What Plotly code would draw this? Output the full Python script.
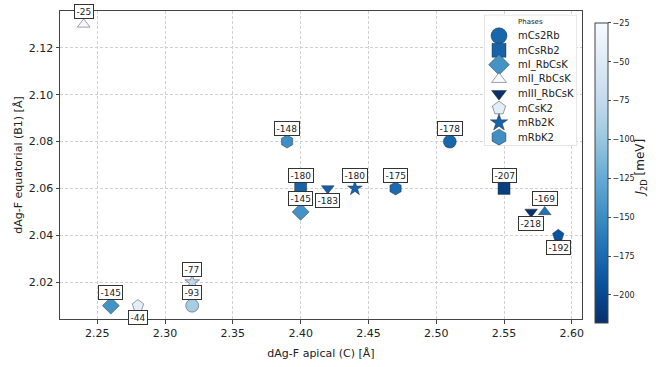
import plotly.graph_objects as go

# Phase of each structure, its Ag-F distances (Å) and exchange coupling J2D (meV)
phase = [
    "mCs2Rb", "mCs2Rb",
    "mCsRb2", "mCsRb2",
    "mI_RbCsK", "mI_RbCsK",
    "mII_RbCsK", "mII_RbCsK",
    "mIII_RbCsK", "mIII_RbCsK",
    "mCsK2", "mCsK2",
    "mRb2K", "mRb2K",
    "mRbK2", "mRbK2",
]
apical = [2.51, 2.32, 2.40, 2.55, 2.40, 2.26, 2.24, 2.58,
          2.57, 2.42, 2.28, 2.59, 2.44, 2.32, 2.39, 2.47]
equatorial = [2.08, 2.01, 2.06, 2.06, 2.05, 2.01, 2.13, 2.05,
              2.05, 2.06, 2.01, 2.04, 2.06, 2.02, 2.08, 2.06]
j2d = [-178, -93, -180, -207, -145, -145, -25, -169,
       -218, -183, -44, -192, -180, -77, -148, -175]

phase_order = ["mCs2Rb", "mCsRb2", "mI_RbCsK", "mII_RbCsK",
               "mIII_RbCsK", "mCsK2", "mRb2K", "mRbK2"]

# marker shape and size for each phase
symbols = {
    "mCs2Rb": ("circle", 13),
    "mCsRb2": ("square", 12),
    "mI_RbCsK": ("diamond", 13),
    "mII_RbCsK": ("triangle-up", 11),
    "mIII_RbCsK": ("triangle-down", 11),
    "mCsK2": ("pentagon", 12),
    "mRb2K": ("star", 11),
    "mRbK2": ("hexagon", 13),
}
# value labels drawn under the marker instead of above
label_below = [False, False, False, False, False, False, False, False,
               True, True, True, True, False, False, False, False]

# reversed matplotlib "Blues"
blues_r = [
    [0.0, "#08306b"], [0.125, "#08519c"], [0.25, "#2171b5"],
    [0.375, "#4292c6"], [0.5, "#6baed6"], [0.625, "#9ecae1"],
    [0.75, "#c6dbef"], [0.875, "#deebf7"], [1.0, "#f7fbff"],
]
cmin, cmax = min(j2d), max(j2d)

FONT = "DejaVu Sans"
EDGE = dict(color="rgba(40,40,40,0.55)", width=0.8)
fig = go.Figure()

for k, ph in enumerate(phase_order):
    idx = [i for i, p in enumerate(phase) if p == ph]
    sym, size = symbols[ph]
    fig.add_trace(go.Scatter(
        x=[apical[i] for i in idx],
        y=[equatorial[i] for i in idx],
        mode="markers",
        name=ph,
        showlegend=False,
        marker=dict(
            symbol=sym,
            size=size,
            color=[j2d[i] for i in idx],
            colorscale=blues_r,
            cmin=cmin, cmax=cmax,
            line=EDGE,
            showscale=(k == 0),
            colorbar=dict(
                x=1.0249, xanchor="left", xref="paper", xpad=0,
                y=-0.0125, yanchor="bottom", len=0.975, lenmode="fraction",
                ypad=0,
                thickness=13, outlinecolor="#444", outlinewidth=1,
                tickmode="linear", tick0=-25, dtick=25,
                ticks="outside", ticklen=3, tickcolor="#444",
                tickfont=dict(family=FONT, size=8, color="#222"),
            ),
        ),
    ))

# value labels
for i in range(len(j2d)):
    fig.add_annotation(
        x=apical[i], y=equatorial[i], xref="x", yref="y",
        text=f"{j2d[i]}", showarrow=False,
        yshift=-12 if label_below[i] else 13,
        font=dict(family=FONT, size=9, color="#222"),
        bgcolor="white", bordercolor="#333", borderwidth=1, borderpad=1.5,
    )

# ---- legend box, drawn on its own small axes (units are pixels) ----
LEG_W, LEG_H = 93, 136
ROW0, ROW_STEP = 21.7, 15.05
for k, ph in enumerate(phase_order):
    first = phase.index(ph)
    sym, size = symbols[ph]
    row_y = ROW0 + k * ROW_STEP
    fig.add_trace(go.Scatter(
        x=[15], y=[row_y], xaxis="x2", yaxis="y2",
        mode="markers", showlegend=False, hoverinfo="skip",
        marker=dict(symbol=sym, size=round(size * 1.2),
                    color=[j2d[first]], colorscale=blues_r,
                    cmin=cmin, cmax=cmax, line=EDGE),
    ))
    fig.add_annotation(
        x=32, y=row_y, xref="x2", yref="y2", xanchor="left", yanchor="middle",
        text=ph, showarrow=False,
        font=dict(family=FONT, size=10, color="#222"),
    )
fig.add_annotation(
    x=46, y=7.7, xref="x2", yref="y2", xanchor="center", yanchor="middle",
    text="Phases", showarrow=False,
    font=dict(family=FONT, size=7, color="#222"),
)
fig.add_shape(
    type="rect", xref="x2", yref="y2", x0=0, x1=LEG_W, y0=0, y1=LEG_H,
    line=dict(color="#d0d0d0", width=1), fillcolor="rgba(255,255,255,0.85)",
    layer="between",
)

# colorbar title
fig.add_annotation(
    x=1.114, y=0.49, xref="paper", yref="paper", xanchor="center",
    yanchor="middle",
    text="<i>J</i><sub>2D</sub> [meV]", textangle=-90, showarrow=False,
    font=dict(family=FONT, size=12, color="#222"),
)

axis_common = dict(
    showline=True, linecolor="#444", linewidth=1, mirror=True,
    ticks="outside", ticklen=3.5, tickcolor="#444",
    showgrid=True, gridcolor="#d0d0d0", griddash="3px,2px", gridwidth=0.8,
    zeroline=False,
    tickfont=dict(family=FONT, size=11, color="#222"),
)

fig.update_layout(
    width=658, height=367,
    margin=dict(l=60, r=76, t=10, b=37),
    paper_bgcolor="white", plot_bgcolor="white",
    font=dict(family=FONT, color="#222"),
    xaxis=dict(axis_common, range=[2.2225, 2.6075], dtick=0.05,
               tickformat=".2f", domain=[0, 1],
               title=dict(text="dAg-F apical (C) [Å]", standoff=10,
                          font=dict(family=FONT, size=11))),
    yaxis=dict(axis_common, range=[2.0043, 2.1357], dtick=0.02,
               tickformat=".2f", domain=[0, 1],
               title=dict(text="dAg-F equatorial (B1) [Å]", standoff=3,
                          font=dict(family=FONT, size=11))),
    xaxis2=dict(domain=[(484 - 60) / 522, (484 + LEG_W - 60) / 522],
                range=[0, LEG_W], visible=False, anchor="y2", fixedrange=True),
    yaxis2=dict(domain=[(330 - 14 - LEG_H) / 320, (330 - 14) / 320],
                range=[LEG_H, 0], visible=False, anchor="x2", fixedrange=True),
    showlegend=False,
)

fig.write_html("out.html")
